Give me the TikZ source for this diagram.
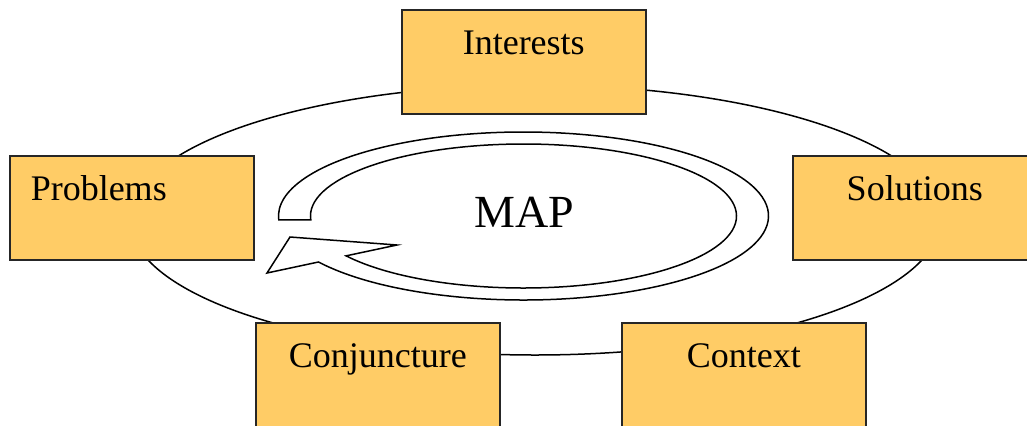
\documentclass[tikz,border=0pt]{standalone}
\usepackage{fontspec}
\setmainfont{Liberation Serif}
\definecolor{boxgold}{RGB}{255,204,102}
\begin{document}
\begin{tikzpicture}
          [x=.5pt,y=.5pt,every node/.style={inner sep=0pt},
           topic/.style={draw=black!85, line width=.75pt, fill=boxgold, anchor=north west, inner xsep=10.5pt, inner ysep=0pt, text width=101pt, align=center, text height=22.5pt, text depth=29.5pt, font=\fontsize{18pt}{20pt}\selectfont},
           band/.style={draw=black, line width=.75pt, fill=white, line join=miter}]
        \clip (0,0) rectangle (1027,425);
        \coordinate (c) at (523.5,209);
        \draw[line width=.75pt] (535,205) ellipse [x radius=405, y radius=135];
        \node[topic] (interests) at (401,416) {Interests};
        \node[topic, align=left] (problems) at (9,270) {Problems};
        \node[topic] (solutions) at (792,270) {Solutions};
        \node[topic] (conjuncture) at (255,103) {Conjuncture};
        \node[topic] (context) at (621,103) {Context};
        \draw[band] ([shift={(183:213 and 72)}]c) arc[start angle=183, end angle=-146.4, x radius=213, y radius=72]
          -- (397,180) -- (290,188) -- (267,152)
          -- ([shift={(-146.8:245 and 84)}]c) arc[start angle=-146.8, end angle=182.7, x radius=245, y radius=84] -- cycle;
        \node[anchor=base, font=\fontsize{23pt}{25pt}\selectfont] (map) at (524,198) {MAP};
      \end{tikzpicture}
\end{document}
